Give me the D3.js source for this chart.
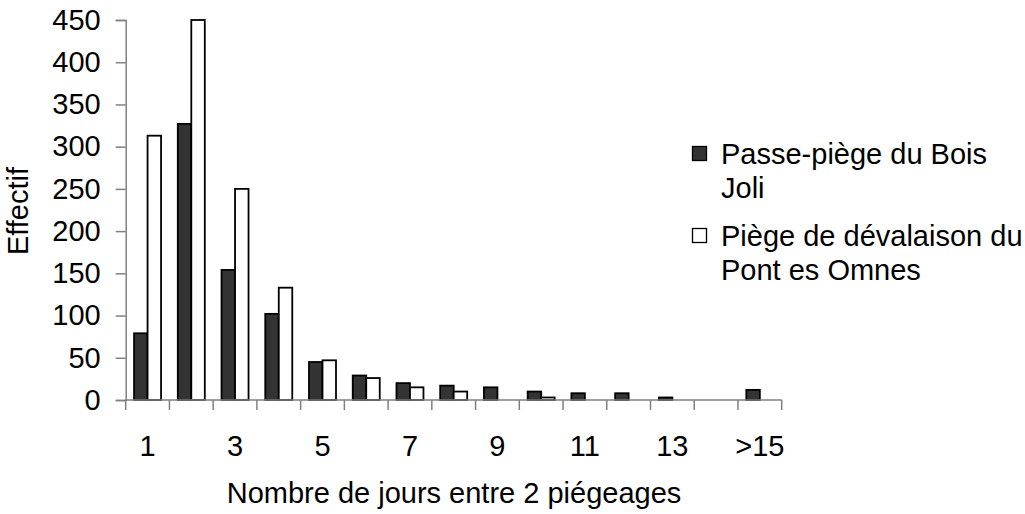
<!DOCTYPE html>
<html>
<head>
<meta charset="utf-8">
<script src="https://cdn.jsdelivr.net/npm/d3@7"></script>
<style>
  html, body { margin: 0; padding: 0; background: #fff; }
  text { font-family: "Liberation Sans", Arial, sans-serif; fill: #000; }
</style>
</head>
<body>
<svg id="chart" width="1025" height="514"></svg>
<script>
const categories = ["1","2","3","4","5","6","7","8","9","10","11","12","13","14",">15"];
const tickLabels = ["1","3","5","7","9","11","13",">15"];
const seriesNames = ["Passe-piège du Bois Joli", "Piège de dévalaison du Pont es Omnes"];
const boisJoli   = [79, 327, 154, 102, 45, 29, 20, 17, 15, 10, 8, 8, 3, 0, 12];
const pontOmnes  = [313, 450, 250, 133, 47, 26, 15, 10, 0, 3, 0, 0, 0, 0, 0];
const yTicks = [0, 50, 100, 150, 200, 250, 300, 350, 400, 450];

(function () {
const svg = d3.select("#chart");
const pLeft = 125.7, pRight = 781.7, pTop = 20, pBottom = 400;
const fs = 29;

const x = d3.scaleBand().domain(categories).range([pLeft, pRight]).paddingInner(0).paddingOuter(0);
const y = d3.scaleLinear().domain([0, 450]).range([pBottom, pTop]);
const barW = 13.5;
const groupOffset = (x.bandwidth() - 2 * barW) / 2;

const fills = ["#333333", "#ffffff"];
const series = [boisJoli, pontOmnes];

// bars
series.forEach((vals, si) => {
  svg.append("g").selectAll("rect")
    .data(vals.map((v, i) => ({v, c: categories[i]})).filter(d => d.v > 0))
    .join("rect")
    .attr("x", d => x(d.c) + groupOffset + si * barW)
    .attr("y", d => y(d.v))
    .attr("width", barW)
    .attr("height", d => y(0) - y(d.v))
    .attr("fill", fills[si])
    .attr("stroke", "#000")
    .attr("stroke-width", 1.8);
});

// y axis
const yAxis = d3.axisLeft(y).tickValues(yTicks).tickSize(10).tickPadding(15);
const gy = svg.append("g").attr("transform", `translate(${pLeft},0)`).call(yAxis);
gy.select(".domain").attr("stroke", "#808080").attr("stroke-width", 1.5);
gy.selectAll(".tick line").attr("stroke", "#808080").attr("stroke-width", 1.5);
gy.selectAll(".tick text").attr("font-size", fs).attr("font-family", "Liberation Sans, Arial, sans-serif").attr("fill", "#000");

// x axis: ticks at category boundaries
const boundaries = categories.map(c => x(c)).concat([pRight]);
const gx = svg.append("g");
gx.append("line").attr("x1", pLeft).attr("x2", pRight).attr("y1", pBottom).attr("y2", pBottom)
  .attr("stroke", "#808080").attr("stroke-width", 1.5);
gx.selectAll("line.tk").data(boundaries).join("line").attr("class", "tk")
  .attr("x1", d => d).attr("x2", d => d).attr("y1", pBottom).attr("y2", pBottom + 10)
  .attr("stroke", "#808080").attr("stroke-width", 1.5);
const labelCats = categories.filter((c, i) => i % 2 === 0);
gx.selectAll("text.lb").data(labelCats).join("text").attr("class", "lb")
  .attr("x", (d) => x(d) + x.bandwidth() / 2)
  .attr("y", 456)
  .attr("text-anchor", "middle")
  .attr("font-size", fs)
  .text((d, i) => tickLabels[i]);

// axis titles
svg.append("text").attr("x", 454).attr("y", 503).attr("text-anchor", "middle")
  .attr("font-size", fs).text("Nombre de jours entre 2 piégeages");
svg.append("text").attr("transform", "translate(28,211) rotate(-90)").attr("text-anchor", "middle")
  .attr("font-size", fs).text("Effectif");

// legend
const legendLines = [["Passe-piège du Bois", "Joli"], ["Piège de dévalaison du", "Pont es Omnes"]];
const legBase = [164, 246];
legendLines.forEach((lines, i) => {
  const g = svg.append("g");
  g.append("rect").attr("x", 692.5).attr("y", legBase[i] - 17.5).attr("width", 14).attr("height", 14)
    .attr("fill", fills[i]).attr("stroke", "#000").attr("stroke-width", 1.3);
  lines.forEach((t, j) => {
    g.append("text").attr("x", 721).attr("y", legBase[i] + j * 34).attr("font-size", fs).text(t);
  });
});
})();
</script>
</body>
</html>
